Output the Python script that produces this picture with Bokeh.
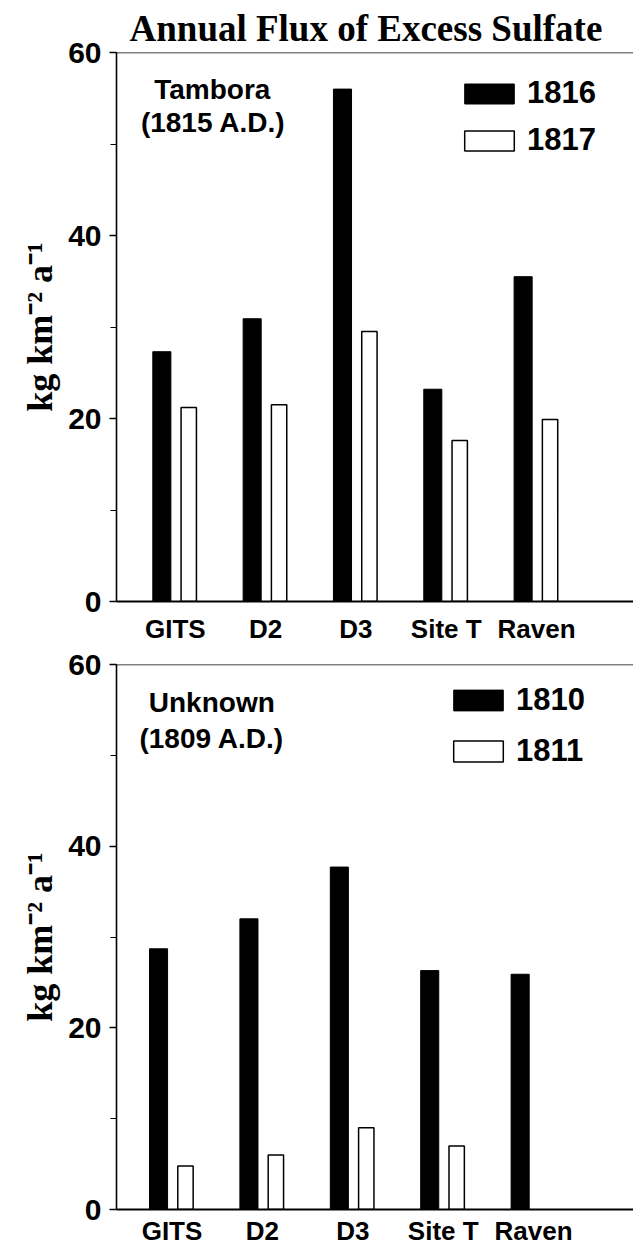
import math
from bokeh.plotting import figure
from bokeh.models import (FixedTicker, SingleIntervalTicker, Span, Label, Legend,
                          LegendItem, Range1d)
from bokeh.layouts import column
from bokeh.embed import file_html
from bokeh.resources import INLINE

# ---------------- data ----------------
sites = ["GITS", "D2", "D3", "Site T", "Raven"]

tambora_years = ["1816", "1817"]
flux_1816 = [27.3, 30.9, 56.0, 23.2, 35.5]
flux_1817 = [21.2, 21.5, 29.5, 17.6, 19.9]

unknown_years = ["1810", "1811"]
flux_1810 = [28.7, 32.0, 37.7, 26.3, 25.9]
flux_1811 = [4.8, 6.0, 9.0, 7.0, float("nan")]

y_ticks_major = 20
title_text = "Annual Flux of Excess Sulfate"
y_label = "kg km\u207b\u00b2 a\u207b\u00b9"

SANS = "Liberation Sans"
SERIF = "Liberation Serif"


def make_panel(first, second, years, event_name, event_date, height,
               x_start, x_end, border_top, border_left, border_bottom,
               label_standoff_x, legend_loc, legend_spacing, glyph_h,
               name_pos, date_pos, with_title):
    p = figure(width=633, height=height, output_backend="svg",
               toolbar_location=None,
               x_range=Range1d(x_start, x_end), y_range=Range1d(0, 60),
               min_border_left=border_left, min_border_right=0,
               min_border_top=border_top, min_border_bottom=border_bottom,
               title=title_text if with_title else None)
    p.outline_line_color = None
    p.xgrid.visible = False
    p.ygrid.visible = False
    p.background_fill_color = "white"
    p.border_fill_color = "white"

    idx = list(range(len(sites)))
    x_first = [i - 0.149 for i in idx]
    x_second = [i + 0.149 for i in idx]
    r1 = p.vbar(x=x_first, top=first, width=0.2, bottom=0,
                fill_color="black", line_color="black", line_width=1)
    r2 = p.vbar(x=x_second, top=second, width=0.17, bottom=0,
                fill_color="white", line_color="black", line_width=1.5)

    # y axis
    ya = p.yaxis[0]
    ya.ticker = SingleIntervalTicker(interval=y_ticks_major, num_minor_ticks=2)
    ya.axis_line_color = "black"
    ya.axis_line_width = 1.6
    ya.major_tick_line_color = "black"
    ya.minor_tick_line_color = "black"
    ya.major_tick_line_width = 1.5
    ya.minor_tick_line_width = 1.2
    ya.major_tick_out = 7
    ya.major_tick_in = 0
    ya.minor_tick_out = 6
    ya.minor_tick_in = 0
    ya.major_label_text_font = SANS
    ya.major_label_text_font_style = "bold"
    ya.major_label_text_font_size = "30px"
    ya.major_label_text_color = "black"
    ya.major_label_standoff = 8
    ya.axis_label = y_label
    ya.axis_label_text_font = SERIF
    ya.axis_label_text_font_style = "bold"
    ya.axis_label_text_font_size = "36px"
    ya.axis_label_text_color = "black"
    ya.axis_label_standoff = 5

    # x axis
    xa = p.xaxis[0]
    xa.ticker = FixedTicker(ticks=idx)
    xa.major_label_overrides = {i: s for i, s in zip(idx, sites)}
    xa.major_tick_out = 0
    xa.major_tick_in = 0
    xa.minor_tick_out = 0
    xa.minor_tick_in = 0
    xa.axis_line_color = "black"
    xa.axis_line_width = 2
    xa.major_label_text_font = SANS
    xa.major_label_text_font_style = "bold"
    xa.major_label_text_font_size = "26px"
    xa.major_label_text_color = "black"
    xa.major_label_standoff = label_standoff_x

    # top frame line
    p.add_layout(Span(location=60, dimension="width", line_color="black",
                      line_width=1.6))

    # event labels
    p.add_layout(Label(x=name_pos[0], y=name_pos[1], text=event_name,
                       text_align="center", text_baseline="middle",
                       text_font=SANS, text_font_style="bold",
                       text_font_size="28px", text_color="black"))
    p.add_layout(Label(x=date_pos[0], y=date_pos[1], text=event_date,
                       text_align="center", text_baseline="middle",
                       text_font=SANS, text_font_style="bold",
                       text_font_size="28px", text_color="black"))

    legend = Legend(items=[LegendItem(label=years[0], renderers=[r1]),
                           LegendItem(label=years[1], renderers=[r2])],
                    location=legend_loc, orientation="vertical",
                    glyph_width=62, glyph_height=glyph_h, label_standoff=7,
                    spacing=legend_spacing, padding=0, margin=0,
                    border_line_color=None, background_fill_alpha=0,
                    label_text_font=SANS, label_text_font_style="bold",
                    label_text_font_size="31px", label_text_color="black")
    p.add_layout(legend)

    if with_title:
        p.title.align = "left"
        p.title.text_font = SERIF
        p.title.text_font_style = "bold"
        p.title.text_font_size = "37px"
        p.title.text_color = "black"
        p.title.standoff = 7
        p.title.offset = 13
    return p


top = make_panel(flux_1816, flux_1817, tambora_years, "Tambora", "(1815 A.D.)",
                 height=646, x_start=-0.651, x_end=5.073,
                 border_top=52, border_left=115, border_bottom=44,
                 label_standoff_x=12, legend_loc=(342, 443), legend_spacing=11,
                 glyph_h=25, name_pos=(0.41, 56.0), date_pos=(0.42, 52.3),
                 with_title=True)

bottom = make_panel(flux_1810, flux_1811, unknown_years, "Unknown", "(1809 A.D.)",
                    height=602, x_start=-0.614, x_end=5.105,
                    border_top=18, border_left=116, border_bottom=38,
                    label_standoff_x=6, legend_loc=(331, 440), legend_spacing=15,
                    glyph_h=26, name_pos=(0.44, 55.8), date_pos=(0.44, 51.8),
                    with_title=False)

layout = column(top, bottom, spacing=0)

with open("out.html", "w") as f:
    f.write(file_html(layout, INLINE))
